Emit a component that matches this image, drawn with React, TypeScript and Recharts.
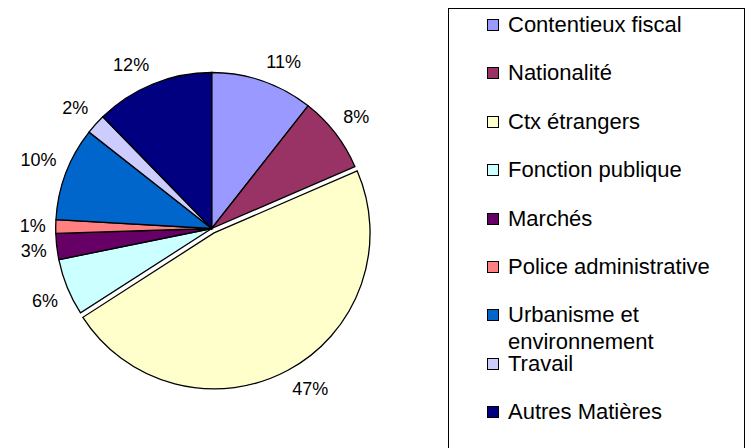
import React from 'react';
import { PieChart, Pie, Cell, Legend } from 'recharts';

const categories = [
  'Contentieux fiscal',
  'Nationalité',
  'Ctx étrangers',
  'Fonction publique',
  'Marchés',
  'Police administrative',
  'Urbanisme et environnement',
  'Travail',
  'Autres Matières',
];
const shares = [10.6, 7.9, 47.4, 5.9, 2.7, 1.4, 9.7, 2.1, 12.3];
const colors = ['#9999FF', '#993366', '#FFFFCC', '#CCFFFF', '#660066', '#FF8080', '#0066CC', '#CCCCFF', '#000080'];
const explodedCategory = 'Ctx étrangers';

const data = categories.map((name, i) => ({ name, value: shares[i] }));

const FONT = '"Liberation Sans", Arial, sans-serif';
const RAD = Math.PI / 180;
const CX = 211.7;
const CY = 228.5;
const R = 156;
const EXPLODE = 5;
const LABEL_FS = 18;

const total = shares.reduce((a, b) => a + b, 0);
const exIdx = categories.indexOf(explodedCategory);
const before = shares.slice(0, exIdx).reduce((a, b) => a + b, 0);
const exTheta = ((before + shares[exIdx] / 2) / total) * 360 * RAD;
const exCx = CX + EXPLODE * Math.sin(exTheta);
const exCy = CY - EXPLODE * Math.cos(exTheta);

const clamp = (v: number) => Math.max(-1, Math.min(1, v));

const renderLabel = (p: any) => {
  const { midAngle, outerRadius, percent, index } = p;
  const cx = index === exIdx ? exCx : p.cx;
  const cy = index === exIdx ? exCy : p.cy;
  const text = `${Math.round(percent * 100)}%`;
  const digits = text.length - 1;
  const w = (digits * 0.556 + 0.889) * LABEL_FS;
  const h = 20;
  const ux = Math.cos(-midAngle * RAD);
  const uy = Math.sin(-midAngle * RAD);
  const d = outerRadius + 10;
  const px = cx + d * ux;
  const py = cy + d * uy;
  const x = px + (w / 2) * clamp(ux * 3);
  const y = py + (h / 2) * clamp(uy * 3);
  return (
    <text
      key={`lbl-${index}`}
      x={x}
      y={y}
      textAnchor="middle"
      dominantBaseline="central"
      fontSize={LABEL_FS}
      fontFamily={FONT}
      fill="#000"
    >
      {text}
    </text>
  );
};

const renderLegend = () => (
  <div
    style={{
      position: 'relative',
      width: 297,
      height: 445,
      border: '1px solid #000',
      boxSizing: 'border-box',
      background: '#fff',
      fontFamily: FONT,
      fontSize: 22,
      color: '#000',
    }}
  >
    {categories.map((name, i) => (
      <div
        key={name}
        style={{
          position: 'absolute',
          left: 38,
          top: 16 + 48.4 * i - 13,
          width: 240,
          lineHeight: '26.2px',
          display: 'flex',
          alignItems: 'flex-start',
        }}
      >
        <span
          style={{
            display: 'inline-block',
            width: 12,
            height: 12,
            marginTop: 7,
            marginRight: 9,
            flex: '0 0 auto',
            background: colors[i],
            border: '1px solid #000',
            boxSizing: 'border-box',
          }}
        />
        <span style={{ width: 225 }}>{name}</span>
      </div>
    ))}
  </div>
);

export default function App() {
  return (
    <div
      style={{
        position: 'absolute',
        left: 0,
        top: 0,
        width: 747,
        height: 448,
        overflow: 'hidden',
        background: '#fff',
        fontFamily: FONT,
      }}
    >
      <PieChart width={747} height={448} margin={{ top: 0, right: 0, bottom: 0, left: 0 }}>
        <Pie
          data={data}
          dataKey="value"
          nameKey="name"
          cx={CX}
          cy={CY}
          outerRadius={R}
          startAngle={90}
          endAngle={-270}
          stroke="#000"
          strokeWidth={1.3}
          label={renderLabel}
          labelLine={false}
          isAnimationActive={false}
        >
          {data.map((d, i) => (
            <Cell
              key={d.name}
              fill={i === exIdx ? 'none' : colors[i]}
              stroke={i === exIdx ? 'none' : '#000'}
            />
          ))}
        </Pie>
        <Pie
          data={data}
          dataKey="value"
          nameKey="name"
          cx={exCx}
          cy={exCy}
          outerRadius={R}
          startAngle={90}
          endAngle={-270}
          stroke="#000"
          strokeWidth={1.3}
          legendType="none"
          isAnimationActive={false}
        >
          {data.map((d, i) => (
            <Cell
              key={d.name}
              fill={i === exIdx ? colors[i] : 'none'}
              stroke={i === exIdx ? '#000' : 'none'}
            />
          ))}
        </Pie>
        <Legend
          layout="vertical"
          align="right"
          verticalAlign="top"
          content={renderLegend}
          wrapperStyle={{ position: 'absolute', left: 448, top: 8, width: 297, height: 445 }}
        />
      </PieChart>
    </div>
  );
}
